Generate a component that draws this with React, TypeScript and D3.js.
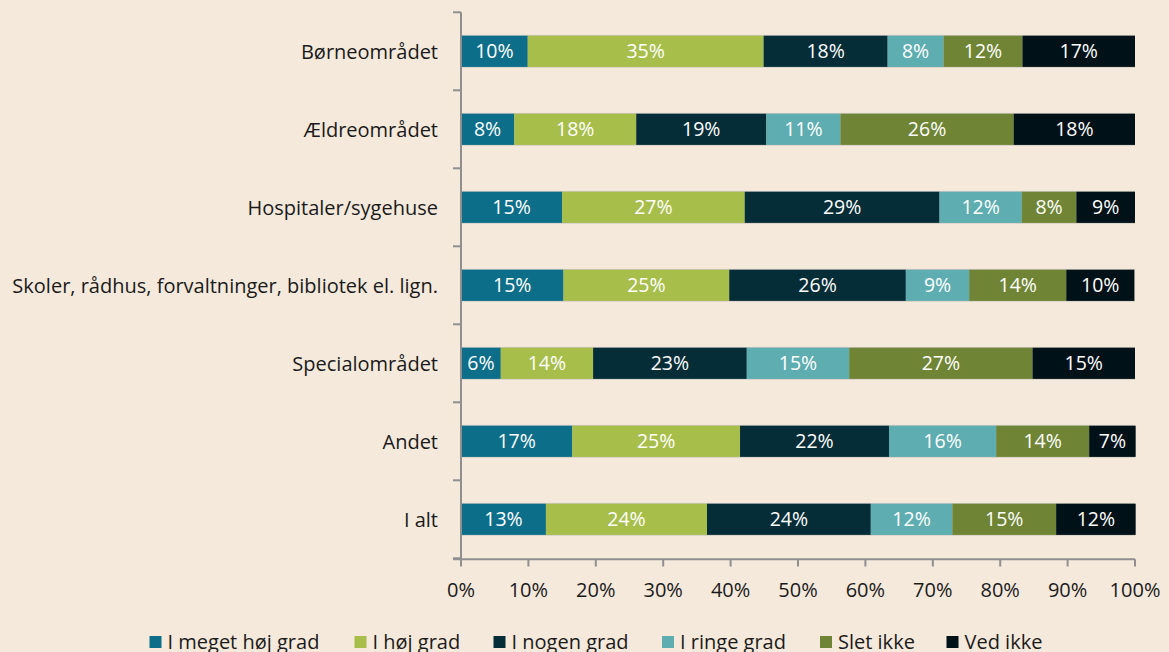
import React from "react";
import * as d3 from "d3";

const categories = [
  "Børneområdet",
  "Ældreområdet",
  "Hospitaler/sygehuse",
  "Skoler, rådhus, forvaltninger, bibliotek el. lign.",
  "Specialområdet",
  "Andet",
  "I alt",
];

const seriesNames = [
  "I meget høj grad",
  "I høj grad",
  "I nogen grad",
  "I ringe grad",
  "Slet ikke",
  "Ved ikke",
];

const megetHoej = [9.9, 7.9, 15.0, 15.2, 5.9, 16.5, 12.6];
const hoej = [35.0, 18.1, 27.1, 24.6, 13.7, 24.9, 23.9];
const nogen = [18.4, 19.3, 28.9, 26.2, 22.8, 22.1, 24.3];
const ringe = [8.3, 11.0, 12.2, 9.4, 15.2, 15.9, 12.1];
const sletIkke = [11.7, 25.7, 8.1, 14.4, 27.2, 13.8, 15.4];
const vedIkke = [16.7, 18.0, 8.7, 10.1, 15.2, 6.9, 11.8];

const xTicks = [0, 10, 20, 30, 40, 50, 60, 70, 80, 90, 100];

const colors = ["#0d6e8a", "#a8be4b", "#052d38", "#5eadb1", "#6f8535", "#011118"];

const W = 1169;
const H = 652;
const FONT = "'Open Sans', 'Noto Sans', sans-serif";

export default function App() {
  const seriesValues = [megetHoej, hoej, nogen, ringe, sletIkke, vedIkke];
  const rows = categories.map((c, i) => {
    const o: any = { cat: c };
    seriesNames.forEach((s, j) => (o[s] = seriesValues[j][i]));
    return o;
  });
  const stack = d3.stack().keys(seriesNames)(rows as any);

  const x = d3.scaleLinear().domain([0, 100]).range([461, 1135]);
  const yTop = 12.3;
  const yBottom = 558.3;
  const y = d3
    .scaleBand<string>()
    .domain(categories)
    .range([yTop, yBottom])
    .paddingInner(0.6)
    .paddingOuter(0.3);
  const step = y.step();
  const bw = y.bandwidth();

  const axisColor = "#8f8f8f";

  return (
    <svg
      width={W}
      height={H}
      style={{ position: "absolute", left: 0, top: 0, background: "#f5e9dc", fontFamily: FONT }}
    >
      <rect x={0} y={0} width={W} height={H} fill="#f5e9dc" />
      {/* bars */}
      {categories.map((c) => (
        <rect
          key={"o" + c}
          x={x(0)}
          y={(y(c) as number) - 0.8}
          width={x(100) - x(0)}
          height={bw + 1.6}
          fill="#cfcac2"
        />
      ))}
      {stack.map((layer, j) => (
        <g key={layer.key}>
          {layer.map((d, i) => {
            const x0 = x(d[0]);
            const x1 = x(d[1]);
            const yy = y(categories[i]) as number;
            const v = seriesValues[j][i];
            return (
              <g key={i}>
                <rect x={x0} y={yy} width={x1 - x0} height={bw} fill={colors[j]} />
                <text
                  x={(x0 + x1) / 2}
                  y={yy + bw / 2}
                  dy="0.36em"
                  textAnchor="middle"
                  fill="#ffffff"
                  fontSize={19.5}
                >
                  {Math.round(v) + "%"}
                </text>
              </g>
            );
          })}
        </g>
      ))}
      {/* y axis */}
      <line x1={461} x2={461} y1={yTop} y2={559.3} stroke={axisColor} strokeWidth={2} />
      {d3.range(categories.length + 1).map((i) => (
        <line
          key={"yt" + i}
          x1={453}
          x2={461}
          y1={yTop + i * step}
          y2={yTop + i * step}
          stroke={axisColor}
          strokeWidth={2}
        />
      ))}
      {categories.map((c) => (
        <text
          key={"l" + c}
          x={438}
          y={(y(c) as number) + bw / 2}
          dy="0.36em"
          textAnchor="end"
          fill="#1a1a1a"
          fontSize={20}
        >
          {c}
        </text>
      ))}
      {/* x axis */}
      <line x1={453} x2={1135} y1={559.3} y2={559.3} stroke={axisColor} strokeWidth={2} />
      {xTicks.map((t) => (
        <g key={"xt" + t}>
          <line x1={x(t)} x2={x(t)} y1={559.3} y2={566.5} stroke={axisColor} strokeWidth={2} />
          <text x={x(t)} y={597} textAnchor="middle" fill="#1a1a1a" fontSize={20}>
            {t + "%"}
          </text>
        </g>
      ))}
      {/* legend */}
      {seriesNames.map((s, j) => {
        const lx = [149.5, 354.5, 493.5, 662, 820, 946.5][j];
        return (
          <g key={"lg" + s}>
            <rect x={lx} y={636} width={12} height={12} fill={colors[j]} />
            <text x={lx + 18} y={648.5} fill="#1a1a1a" fontSize={20}>
              {s}
            </text>
          </g>
        );
      })}
    </svg>
  );
}
